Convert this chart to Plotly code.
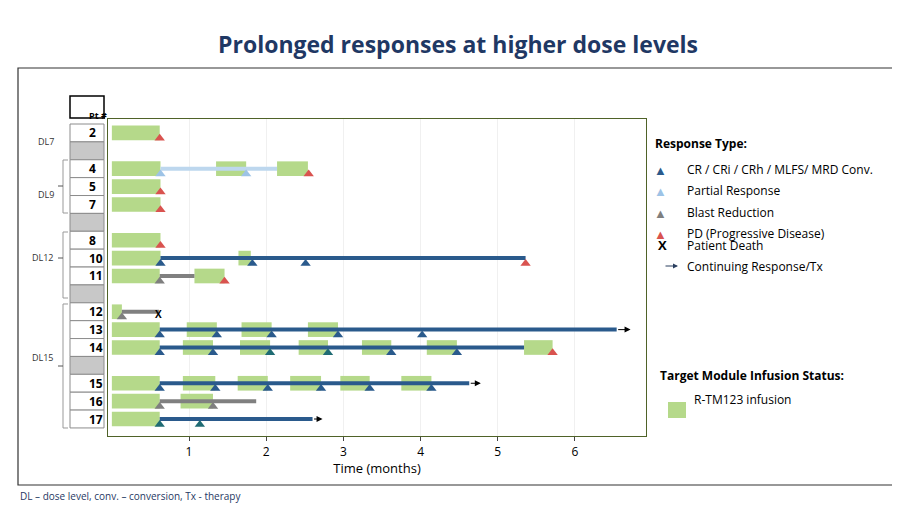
import plotly.graph_objects as go

# row order (None = grey spacer row)
rows = ["2", None, "4", "5", "7", None, "8", "10", "11", None, "12", "13", "14", None, "15", "16", "17"]

# infusion periods (months)
infusions = {
    "2": [(0, 0.62)],
    "4": [(0, 0.63), (1.35, 1.74), (2.14, 2.54)],
    "5": [(0, 0.63)],
    "7": [(0, 0.63)],
    "8": [(0, 0.63)],
    "10": [(0, 0.63), (1.64, 1.80)],
    "11": [(0, 0.62), (1.07, 1.46)],
    "12": [(0, 0.13)],
    "13": [(0, 0.62), (0.97, 1.36), (1.68, 2.07), (2.54, 2.93)],
    "14": [(0, 0.62), (0.92, 1.31), (1.66, 2.05), (2.42, 2.80), (3.24, 3.62), (4.08, 4.47), (5.34, 5.71)],
    "15": [(0, 0.62), (0.92, 1.34), (1.63, 2.02), (2.31, 2.71), (2.96, 3.34), (3.75, 4.14)],
    "16": [(0, 0.62), (0.89, 1.31)],
    "17": [(0, 0.62)],
}

# response follow-up lines: (start, end, kind)
follow = {
    "4": (0.63, 2.14, "PR"),
    "10": (0.63, 5.36, "CR"),
    "11": (0.62, 1.07, "BR"),
    "12": (0.13, 0.61, "BR"),
    "13": (0.62, 6.54, "CR"),
    "14": (0.62, 5.34, "CR"),
    "15": (0.62, 4.63, "CR"),
    "16": (0.62, 1.87, "BR"),
    "17": (0.62, 2.60, "CR"),
}

# response assessments
responses = {
    "2": [(0.62, "PD")],
    "4": [(0.63, "PR"), (1.74, "PR"), (2.55, "PD")],
    "5": [(0.63, "PD")],
    "7": [(0.63, "PD")],
    "8": [(0.63, "PD")],
    "10": [(0.63, "CR"), (1.82, "CR"), (2.51, "CR"), (5.36, "PD")],
    "11": [(0.62, "BR"), (1.46, "PD")],
    "12": [(0.13, "BR")],
    "13": [(0.62, "CR"), (1.36, "CR"), (2.07, "CR"), (2.93, "CR"), (4.02, "CR")],
    "14": [(0.62, "CR"), (1.31, "CR"), (2.05, "CRt"), (2.80, "CRt"), (3.62, "CR"), (4.47, "CR"), (5.71, "PD")],
    "15": [(0.62, "CR"), (1.34, "CR"), (2.02, "CR"), (2.71, "CR"), (3.34, "CR"), (4.14, "CR")],
    "16": [(0.62, "BR"), (1.31, "BR")],
    "17": [(0.62, "CRt"), (1.14, "CRt")],
}

deaths = {"12": 0.61}
continuing = {"13": (6.54, 6.72), "15": (4.63, 4.78), "17": (2.60, 2.73)}

dose_levels = [("DL7", 125), ("DL9", 178), ("DL12", 250), ("DL15", 358)]

colors = {"CR": "#2a5a8c", "CRt": "#1f6b73", "PR": "#9dc3e6", "BR": "#7f7f7f", "PD": "#d9534f"}
line_colors = {"CR": "#2a5a8c", "PR": "#bdd7ee", "BR": "#808080"}
green = "#b5d98a"

W, H = 900, 507
L, R, T, B = 100, 638, 111, 428


def px(x):
    return (x - L) / (R - L)


def py(y):
    return 1 - (y - T) / (B - T)


yidx = {p: i for i, p in enumerate(rows) if p}

fig = go.Figure()

# follow-up lines
for p, (s, e, k) in follow.items():
    fig.add_trace(go.Scatter(x=[s, e], y=[yidx[p], yidx[p]], mode="lines",
                             line=dict(color=line_colors[k], width=4), hoverinfo="skip"))

# infusion bars
bx, bb, by = [], [], []
for p, segs in infusions.items():
    for s, e in segs:
        bx.append(e - s)
        bb.append(s)
        by.append(yidx[p])
fig.add_trace(go.Bar(x=bx, base=bb, y=by, orientation="h", width=0.82,
                     marker=dict(color=green, line=dict(width=0))))

# response markers
for k in colors:
    xs, ys = [], []
    for p, lst in responses.items():
        for x, kk in lst:
            if kk == k:
                xs.append(x)
                ys.append(yidx[p] + 0.3)
    fig.add_trace(go.Scatter(x=xs, y=ys, mode="markers",
                             marker=dict(symbol="triangle-up", size=9, color=colors[k])))

shapes = []
ann = []

for p, x in deaths.items():
    ann.append(dict(x=x, y=yidx[p] + 0.1, xref="x", yref="y", text="<b>X</b>", showarrow=False,
                    font=dict(size=10, color="black")))

for p, (s, e) in continuing.items():
    ann.append(dict(x=e, y=yidx[p], ax=s, ay=yidx[p], xref="x", yref="y", axref="x", ayref="y",
                    text="", showarrow=True, arrowhead=2, arrowsize=1.2, arrowwidth=1, arrowcolor="black"))

# patient table
x0, x1 = px(62), px(96)
for i, p in enumerate(rows):
    shapes.append(dict(type="rect", xref="paper", yref="y", x0=x0, x1=x1, y0=i - 0.5, y1=i + 0.5,
                       fillcolor="white" if p else "#c8c8c8", line=dict(color="#8c8c8c", width=1)))
    if p:
        ann.append(dict(x=(x0 + x1) / 2, y=i, xref="paper", yref="y", text="<b>%s</b>" % p,
                        showarrow=False, font=dict(size=12, color="black")))
shapes.append(dict(type="rect", xref="paper", yref="paper", x0=x0, x1=x1, y0=py(110), y1=py(88),
                   line=dict(color="black", width=1.5), fillcolor="white"))
ann.append(dict(x=(x0 + x1) / 2, y=py(99), xref="paper", yref="paper", text="<b>Pt #</b>",
                showarrow=False, font=dict(size=9, color="black")))

# dose level labels and brackets
for name, yy in dose_levels:
    ann.append(dict(x=px(48), y=py(yy), xref="paper", yref="paper", text=name, showarrow=False,
                    xanchor="right", font=dict(size=9, color="#333333")))
for top, mid, bot in [(152, 178, 205), (224, 250, 290), (296, 358, 420)]:
    shapes.append(dict(type="path", xref="paper", yref="paper",
                       path="M %f %f L %f %f L %f %f L %f %f" % (px(60), py(top), px(55), py(top),
                                                                 px(55), py(bot), px(60), py(bot)),
                       line=dict(color="#999999", width=1)))
    shapes.append(dict(type="line", xref="paper", yref="paper", x0=px(50), x1=px(55), y0=py(mid), y1=py(mid),
                       line=dict(color="#555555", width=1)))

# outer frame
shapes.append(dict(type="rect", xref="paper", yref="paper", x0=px(10), x1=px(886), y0=py(477), y1=py(60),
                   line=dict(color="#333333", width=1.2), layer="below"))

# legend
ann.append(dict(x=px(645), y=py(125), xref="paper", yref="paper", text="<b>Response Type:</b>",
                showarrow=False, xanchor="left", font=dict(size=12, color="black")))
leg = [("CR", "CR / CRi / CRh / MLFS/ MRD Conv.", 151), ("PR", "Partial Response", 172),
       ("BR", "Blast Reduction", 194), ("PD", "PD (Progressive Disease)", 215)]
for k, t, yy in leg:
    ann.append(dict(x=px(661), y=py(yy), xref="paper", yref="paper", text="▲", showarrow=False,
                    font=dict(size=13, color=colors[k])))
    ann.append(dict(x=px(677), y=py(yy), xref="paper", yref="paper", text=t, showarrow=False,
                    xanchor="left", font=dict(size=12, color="black")))
ann.append(dict(x=px(661), y=py(237), xref="paper", yref="paper", text="<b>X</b>", showarrow=False,
                font=dict(size=13, color="black")))
ann.append(dict(x=px(677), y=py(237), xref="paper", yref="paper", text="Patient Death", showarrow=False,
                xanchor="left", font=dict(size=12, color="black")))
ann.append(dict(x=px(670), y=py(258), ax=-14, ay=0, xref="paper", yref="paper",
                axref="pixel", ayref="pixel", text="", showarrow=True, arrowhead=2, arrowwidth=1))
ann.append(dict(x=px(677), y=py(258), xref="paper", yref="paper", text="Continuing Response/Tx",
                showarrow=False, xanchor="left", font=dict(size=12, color="black")))
ann.append(dict(x=px(650), y=py(378), xref="paper", yref="paper", text="<b>Target Module Infusion Status:</b>",
                showarrow=False, xanchor="left", font=dict(size=12, color="black")))
shapes.append(dict(type="rect", xref="paper", yref="paper", x0=px(660), x1=px(678), y0=py(410), y1=py(394),
                   fillcolor=green, line=dict(width=0)))
ann.append(dict(x=px(684), y=py(402), xref="paper", yref="paper", text="R-TM123 infusion", showarrow=False,
                xanchor="left", font=dict(size=12, color="black")))

# title and footnote
ann.append(dict(x=px(450), y=py(18), xref="paper", yref="paper", text="<b>Prolonged responses at higher dose levels</b>",
                showarrow=False, font=dict(size=23, color="#1f3864")))
ann.append(dict(x=px(10), y=py(497), xref="paper", yref="paper",
                text="DL – dose level, conv. – conversion, Tx - therapy", showarrow=False, xanchor="left",
                font=dict(size=10, color="#1f3864")))

fig.update_layout(
    width=W, height=H, margin=dict(l=L, r=W - R, t=T, b=H - B),
    paper_bgcolor="white", plot_bgcolor="white", showlegend=False,
    font=dict(family="Open Sans, Arial", color="black"),
    shapes=shapes, annotations=ann, barmode="overlay",
    xaxis=dict(range=[-0.05, 6.92], tickvals=[1, 2, 3, 4, 5, 6], ticks="outside", ticklen=4,
               showgrid=True, gridcolor="#f0f0f0", zeroline=False, showline=True, mirror=True,
               linecolor="#4f6228", linewidth=1.2, tickfont=dict(size=12),
               title=dict(text="Time (months)", font=dict(size=13), standoff=2)),
    yaxis=dict(range=[16.95, -0.78], showticklabels=False, showgrid=False, zeroline=False,
               showline=True, mirror=True, linecolor="#4f6228", linewidth=1.2),
)

fig.write_html("out.html")
